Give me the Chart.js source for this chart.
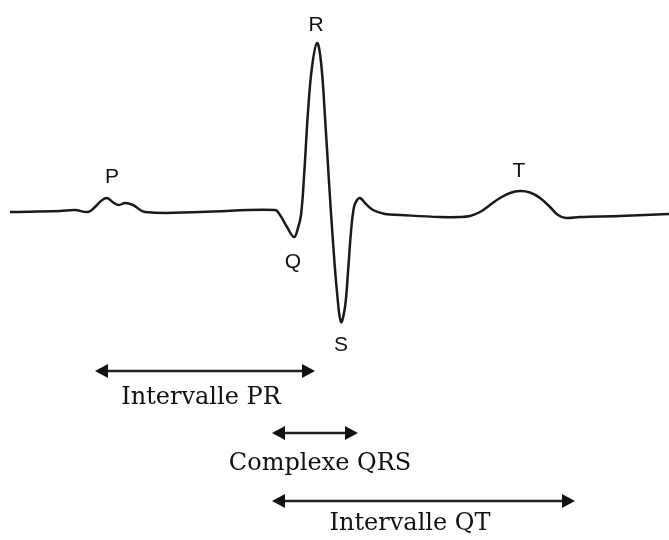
<!DOCTYPE html>
<html>
<head>
<meta charset="utf-8">
<script src="https://cdn.jsdelivr.net/npm/chart.js@4/dist/chart.umd.min.js"></script>
<style>
  body { margin: 0; background: #fff; }
  #wrap { width: 669px; height: 540px; }
</style>
</head>
<body>
<div id="wrap"><canvas id="myChart"></canvas></div>
<script>
// trace ECG (temps en unites arbitraires, tension en unites arbitraires)
var temps = [10, 60, 75, 88, 95, 101, 107, 114, 119, 125, 133, 145, 200, 275, 280, 287, 294, 298, 301, 304, 308, 312, 317, 321, 325, 329, 333, 337, 341, 345, 348, 351, 354, 357, 360, 366, 373, 385, 400, 440, 460, 470, 480, 490, 500, 510, 520, 530, 540, 550, 558, 566, 580, 620, 669];
var tension = [0, 1, 2, 0, 5, 11, 14, 9, 7, 9, 7, 0, 0, 2, -3, -15, -25, -16, -3, 35, 100, 145, 169, 150, 95, 30, -30, -80, -110, -95, -60, -20, 5, 12, 14, 8, 2, -2, -3, -5, -5, -4, 0, 7, 14, 19, 21, 19.5, 14, 5, -3, -6, -5, -4, -2];

// noms des ondes et leur position
var ondes = ['P', 'Q', 'R', 'S', 'T'];
var ondesTemps = [112, 293, 316, 341, 519];
var ondesTension = [35, -50, 187, -133, 41];

// intervalles
var intervalles = ['Intervalle PR', 'Complexe QRS', 'Intervalle QT'];
var intervDebut = [95, 272, 272];
var intervFin = [315, 358, 575];
var intervNiveau = [-159, -221, -289];
var intervTexteTemps = [201, 320, 410];
var intervTexteNiveau = [-186, -252, -312];

var points = [];
for (var i = 0; i < temps.length; i++) {
  points.push({ x: temps[i], y: tension[i] });
}

var annotations = {
  id: 'annotations',
  afterDatasetsDraw: function (chart) {
    var ctx = chart.ctx;
    var xs = chart.scales.x;
    var ys = chart.scales.y;
    ctx.save();
    ctx.fillStyle = '#111';
    ctx.textAlign = 'center';
    ctx.textBaseline = 'middle';
    ctx.font = '21px "Liberation Sans", Arial, sans-serif';
    for (var i = 0; i < ondes.length; i++) {
      ctx.fillText(ondes[i], xs.getPixelForValue(ondesTemps[i]), ys.getPixelForValue(ondesTension[i]));
    }

    // fleches
    ctx.strokeStyle = '#222';
    ctx.fillStyle = '#111';
    ctx.lineWidth = 2.5;
    var head = 13, half = 7;
    for (var j = 0; j < intervalles.length; j++) {
      var x1 = xs.getPixelForValue(intervDebut[j]);
      var x2 = xs.getPixelForValue(intervFin[j]);
      var y = ys.getPixelForValue(intervNiveau[j]);
      ctx.beginPath();
      ctx.moveTo(x1 + head - 2, y);
      ctx.lineTo(x2 - head + 2, y);
      ctx.stroke();
      ctx.beginPath();
      ctx.moveTo(x1, y);
      ctx.lineTo(x1 + head, y - half);
      ctx.lineTo(x1 + head, y + half);
      ctx.closePath();
      ctx.fill();
      ctx.beginPath();
      ctx.moveTo(x2, y);
      ctx.lineTo(x2 - head, y - half);
      ctx.lineTo(x2 - head, y + half);
      ctx.closePath();
      ctx.fill();
    }

    ctx.font = '24px "DejaVu Serif", serif';
    ctx.fillStyle = '#111';
    for (var k = 0; k < intervalles.length; k++) {
      ctx.fillText(intervalles[k], xs.getPixelForValue(intervTexteTemps[k]), ys.getPixelForValue(intervTexteNiveau[k]));
    }
    ctx.restore();
  }
};

var ctx = document.getElementById('myChart').getContext('2d');
var myChart = new Chart(ctx, {
  type: 'line',
  data: {
    datasets: [{
      label: 'ECG',
      data: points,
      borderColor: '#1a1a1a',
      borderWidth: 2.5,
      pointRadius: 0,
      fill: false,
      tension: 0.4
    }]
  },
  options: {
    responsive: true,
    maintainAspectRatio: false,
    animation: false,
    layout: { padding: 0 },
    plugins: {
      legend: { display: false },
      tooltip: { enabled: false }
    },
    scales: {
      x: { type: 'linear', min: 0, max: 669, display: false },
      y: { min: -328, max: 212, display: false }
    }
  },
  plugins: [annotations]
});
</script>
</body>
</html>
